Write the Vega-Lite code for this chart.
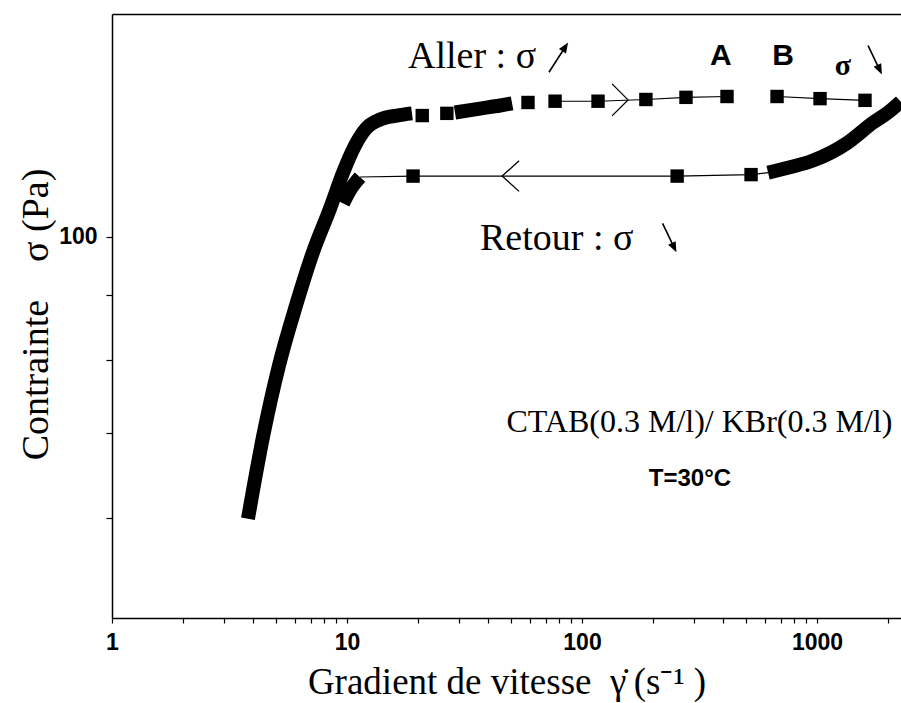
{
  "$schema": "https://vega.github.io/schema/vega-lite/v6.json",
  "width": 789,
  "height": 604,
  "autosize": {"type": "none"},
  "padding": {"left": 112, "top": 14, "right": 0, "bottom": 85},
  "background": "white",
  "config": {"view": {"stroke": null}},
  "datasets": {
    "thick": [
      {"seg": "rise", "x": 3.79, "y": 59.9},
      {"seg": "rise", "x": 4.39, "y": 69.5},
      {"seg": "rise", "x": 5.14, "y": 79.2},
      {"seg": "rise", "x": 6.07, "y": 88.3},
      {"seg": "rise", "x": 7.17, "y": 97.3},
      {"seg": "rise", "x": 8.47, "y": 105.3},
      {"seg": "rise", "x": 9.62, "y": 112.4},
      {"seg": "rise", "x": 10.82, "y": 118.1},
      {"seg": "rise", "x": 12.05, "y": 121.8},
      {"seg": "rise", "x": 13.8, "y": 123.8},
      {"seg": "rise", "x": 16.3, "y": 124.7},
      {"seg": "rise", "x": 18.9, "y": 125.2},
      {"seg": "plateau", "x": 28.8, "y": 125.4},
      {"seg": "plateau", "x": 36.8, "y": 126.3},
      {"seg": "plateau", "x": 44.8, "y": 127.0},
      {"seg": "plateau", "x": 50.4, "y": 127.5},
      {"seg": "descend", "x": 2270, "y": 127.9},
      {"seg": "descend", "x": 2005, "y": 125.4},
      {"seg": "descend", "x": 1730, "y": 123.1},
      {"seg": "descend", "x": 1342, "y": 118.6},
      {"seg": "descend", "x": 962, "y": 114.9},
      {"seg": "descend", "x": 767, "y": 113.5},
      {"seg": "descend", "x": 619, "y": 112.4},
      {"seg": "merge", "x": 11.36, "y": 111.5},
      {"seg": "merge", "x": 10.3, "y": 108.9},
      {"seg": "merge", "x": 9.62, "y": 106.3}
    ],
    "squares": [
      {"branch": "aller", "x": 20.9, "y": 124.7},
      {"branch": "aller", "x": 26.6, "y": 125.2},
      {"branch": "aller", "x": 58.9, "y": 127.7},
      {"branch": "aller", "x": 76.8, "y": 128.0},
      {"branch": "aller", "x": 117, "y": 128.0},
      {"branch": "aller", "x": 187, "y": 128.4},
      {"branch": "aller", "x": 277, "y": 128.9},
      {"branch": "aller", "x": 414, "y": 129.1},
      {"branch": "aller", "x": 676, "y": 129.1},
      {"branch": "aller", "x": 1030, "y": 128.6},
      {"branch": "aller", "x": 1600, "y": 128.2},
      {"branch": "retour", "x": 19.1, "y": 111.7},
      {"branch": "retour", "x": 254, "y": 111.7},
      {"branch": "retour", "x": 524, "y": 112.0}
    ],
    "thin": [
      {"seg": "u1", "x": 76.8, "y": 128.0},
      {"seg": "u1", "x": 117, "y": 128.0},
      {"seg": "u1", "x": 187, "y": 128.4},
      {"seg": "u1", "x": 277, "y": 128.9},
      {"seg": "u1", "x": 414, "y": 129.1},
      {"seg": "u2", "x": 676, "y": 129.1},
      {"seg": "u2", "x": 1030, "y": 128.6},
      {"seg": "u2", "x": 1600, "y": 128.2},
      {"seg": "l1", "x": 11.36, "y": 111.5},
      {"seg": "l1", "x": 19.1, "y": 111.7},
      {"seg": "l1", "x": 254, "y": 111.7},
      {"seg": "l1", "x": 524, "y": 112.0},
      {"seg": "l1", "x": 619, "y": 112.4}
    ],
    "glyphs": [
      {"kind": "chev_r", "x": 157, "y": 128.3},
      {"kind": "chev_l", "x": 45.7, "y": 111.7},
      {"kind": "arr_up", "x": 79.0, "y": 138.4},
      {"kind": "arr_dn", "x": 1757, "y": 138.2},
      {"kind": "arr_dn", "x": 234.6, "y": 100.0}
    ],
    "notes": [
      {"kind": "big", "label": "Aller : σ", "x": 18.18, "y": 135.9},
      {"kind": "big", "label": "Retour : σ", "x": 36.8, "y": 97.6},
      {"kind": "letter", "label": "A", "x": 390, "y": 136.6},
      {"kind": "letter", "label": "B", "x": 717, "y": 136.6},
      {"kind": "sigma", "label": "σ", "x": 1290, "y": 134.2},
      {"kind": "ctab", "label": "CTAB(0.3 M/l)/ KBr(0.3 M/l)", "x": 316, "y": 70.1},
      {"kind": "temp", "label": "T=30°C", "x": 288, "y": 63.6}
    ]
  },
  "resolve": {"axis": {"x": "independent", "y": "independent"}},
  "layer": [
    {
      "data": {"name": "thick"},
      "mark": {"type": "line", "stroke": "black", "strokeWidth": 14, "strokeCap": "butt", "strokeJoin": "round", "interpolate": "monotone"},
      "encoding": {
        "x": {
          "field": "x", "type": "quantitative",
          "scale": {"type": "log", "domain": [1, 2277], "nice": false},
          "axis": {
            "orient": "bottom",
            "values": [1, 2, 3, 4, 5, 6, 7, 8, 9, 10, 20, 30, 40, 50, 60, 70, 80, 90, 100, 200, 300, 400, 500, 600, 700, 800, 900, 1000, 2000],
            "labelExpr": "(datum.value == 1 || datum.value == 10 || datum.value == 100 || datum.value == 1000) ? datum.value + '' : ''",
            "labelFont": "Liberation Sans", "labelFontSize": 23, "labelFontWeight": "bold", "labelColor": "black",
            "labelPadding": 8, "labelOverlap": false, "labelFlush": false, "labelBound": false,
            "tickSize": 5, "tickColor": "black", "tickWidth": 1.2,
            "domainColor": "black", "domainWidth": 1.5, "grid": false,
            "title": "Gradient de vitesse\u00a0\u00a0γ̇\u2009(s⁻¹\u00a0)",
            "titleFont": "Liberation Serif", "titleFontSize": 37, "titleFontWeight": "normal", "titleColor": "black",
            "titleX": 394.5, "titleY": 75, "titleBaseline": "alphabetic", "titleAlign": "center"
          }
        },
        "y": {
          "field": "y", "type": "quantitative",
          "scale": {"type": "log", "domain": [50, 150], "nice": false},
          "axis": {
            "orient": "left",
            "values": [60, 70, 80, 90, 100],
            "labelExpr": "datum.value == 100 ? '100' : ''",
            "labelFont": "Liberation Sans", "labelFontSize": 23, "labelFontWeight": "bold", "labelColor": "black",
            "labelPadding": 9, "labelOverlap": false, "labelBound": false, "labelFlush": false,
            "tickSize": 6, "tickColor": "black", "tickWidth": 1.2,
            "domainColor": "black", "domainWidth": 1.5, "grid": false,
            "title": "Contrainte\u00a0\u00a0\u00a0\u00a0σ (Pa)",
            "titleFont": "Liberation Serif", "titleFontSize": 38, "titleFontWeight": "normal", "titleColor": "black",
            "titleAngle": -90, "titleX": -65, "titleY": 300, "titleBaseline": "alphabetic", "titleAlign": "center"
          }
        },
        "detail": {"field": "seg"}
      }
    },
    {
      "data": {"name": "thin"},
      "mark": {"type": "line", "stroke": "black", "strokeWidth": 1.1},
      "encoding": {
        "x": {"field": "x", "type": "quantitative", "scale": {"type": "log", "domain": [1, 2277], "nice": false}, "axis": null},
        "y": {"field": "y", "type": "quantitative", "scale": {"type": "log", "domain": [50, 150], "nice": false}, "axis": null},
        "detail": {"field": "seg"}
      }
    },
    {
      "data": {"name": "squares"},
      "mark": {"type": "point", "shape": "square", "filled": true, "fill": "black", "strokeWidth": 0, "size": 180, "opacity": 1},
      "encoding": {
        "x": {"field": "x", "type": "quantitative", "scale": {"type": "log", "domain": [1, 2277], "nice": false}, "axis": null},
        "y": {"field": "y", "type": "quantitative", "scale": {"type": "log", "domain": [50, 150], "nice": false}, "axis": null}
      }
    },
    {
      "data": {"name": "glyphs"},
      "transform": [{"filter": "datum.kind == 'chev_r'"}],
      "mark": {"type": "point", "shape": "M-1,-1L0,0L-1,1", "filled": false, "stroke": "black", "strokeWidth": 1.3, "size": 1024, "opacity": 1},
      "encoding": {
        "x": {"field": "x", "type": "quantitative", "scale": {"type": "log", "domain": [1, 2277], "nice": false}, "axis": null},
        "y": {"field": "y", "type": "quantitative", "scale": {"type": "log", "domain": [50, 150], "nice": false}, "axis": null}
      }
    },
    {
      "data": {"name": "glyphs"},
      "transform": [{"filter": "datum.kind == 'chev_l'"}],
      "mark": {"type": "point", "shape": "M1,-0.9L0,0L1,0.9", "filled": false, "stroke": "black", "strokeWidth": 1.3, "size": 1156, "opacity": 1},
      "encoding": {
        "x": {"field": "x", "type": "quantitative", "scale": {"type": "log", "domain": [1, 2277], "nice": false}, "axis": null},
        "y": {"field": "y", "type": "quantitative", "scale": {"type": "log", "domain": [50, 150], "nice": false}, "axis": null}
      }
    },
    {
      "data": {"name": "glyphs"},
      "transform": [{"filter": "datum.kind == 'arr_up'"}],
      "mark": {"type": "point", "shape": "M-0.6,0.93L0.6,-0.93M0.6,-0.93L0.497,-0.402L0.161,-0.618Z", "filled": true, "fill": "black", "stroke": "black", "strokeWidth": 1.6, "size": 900, "opacity": 1},
      "encoding": {
        "x": {"field": "x", "type": "quantitative", "scale": {"type": "log", "domain": [1, 2277], "nice": false}, "axis": null},
        "y": {"field": "y", "type": "quantitative", "scale": {"type": "log", "domain": [50, 150], "nice": false}, "axis": null}
      }
    },
    {
      "data": {"name": "glyphs"},
      "transform": [{"filter": "datum.kind == 'arr_dn'"}],
      "mark": {"type": "point", "shape": "M-0.43,-0.9L0.43,0.9M0.43,0.9L0.394,0.363L0.034,0.535Z", "filled": true, "fill": "black", "stroke": "black", "strokeWidth": 1.6, "size": 900, "opacity": 1},
      "encoding": {
        "x": {"field": "x", "type": "quantitative", "scale": {"type": "log", "domain": [1, 2277], "nice": false}, "axis": null},
        "y": {"field": "y", "type": "quantitative", "scale": {"type": "log", "domain": [50, 150], "nice": false}, "axis": null}
      }
    },
    {
      "data": {"name": "notes"},
      "transform": [{"filter": "datum.kind == 'big'"}],
      "mark": {"type": "text", "font": "Liberation Serif", "fontSize": 38, "align": "left", "baseline": "alphabetic", "fill": "black"},
      "encoding": {
        "x": {"field": "x", "type": "quantitative", "scale": {"type": "log", "domain": [1, 2277], "nice": false},
          "axis": {"orient": "top", "labels": false, "ticks": false, "domain": true, "domainColor": "black", "domainWidth": 1.5, "grid": false, "title": null}},
        "y": {"field": "y", "type": "quantitative", "scale": {"type": "log", "domain": [50, 150], "nice": false}, "axis": null},
        "text": {"field": "label"}
      }
    },
    {
      "data": {"name": "notes"},
      "transform": [{"filter": "datum.kind == 'letter'"}],
      "mark": {"type": "text", "font": "Liberation Sans", "fontSize": 30, "fontWeight": "bold", "align": "center", "baseline": "alphabetic", "fill": "black"},
      "encoding": {
        "x": {"field": "x", "type": "quantitative", "scale": {"type": "log", "domain": [1, 2277], "nice": false}, "axis": null},
        "y": {"field": "y", "type": "quantitative", "scale": {"type": "log", "domain": [50, 150], "nice": false}, "axis": null},
        "text": {"field": "label"}
      }
    },
    {
      "data": {"name": "notes"},
      "transform": [{"filter": "datum.kind == 'sigma'"}],
      "mark": {"type": "text", "font": "Liberation Serif", "fontSize": 30, "fontWeight": "bold", "align": "center", "baseline": "alphabetic", "fill": "black"},
      "encoding": {
        "x": {"field": "x", "type": "quantitative", "scale": {"type": "log", "domain": [1, 2277], "nice": false}, "axis": null},
        "y": {"field": "y", "type": "quantitative", "scale": {"type": "log", "domain": [50, 150], "nice": false}, "axis": null},
        "text": {"field": "label"}
      }
    },
    {
      "data": {"name": "notes"},
      "transform": [{"filter": "datum.kind == 'ctab'"}],
      "mark": {"type": "text", "font": "Liberation Serif", "fontSize": 32, "align": "center", "baseline": "alphabetic", "fill": "black"},
      "encoding": {
        "x": {"field": "x", "type": "quantitative", "scale": {"type": "log", "domain": [1, 2277], "nice": false}, "axis": null},
        "y": {"field": "y", "type": "quantitative", "scale": {"type": "log", "domain": [50, 150], "nice": false}, "axis": null},
        "text": {"field": "label"}
      }
    },
    {
      "data": {"name": "notes"},
      "transform": [{"filter": "datum.kind == 'temp'"}],
      "mark": {"type": "text", "font": "Liberation Sans", "fontSize": 24, "fontWeight": "bold", "align": "center", "baseline": "alphabetic", "fill": "black"},
      "encoding": {
        "x": {"field": "x", "type": "quantitative", "scale": {"type": "log", "domain": [1, 2277], "nice": false}, "axis": null},
        "y": {"field": "y", "type": "quantitative", "scale": {"type": "log", "domain": [50, 150], "nice": false}, "axis": null},
        "text": {"field": "label"}
      }
    }
  ]
}
